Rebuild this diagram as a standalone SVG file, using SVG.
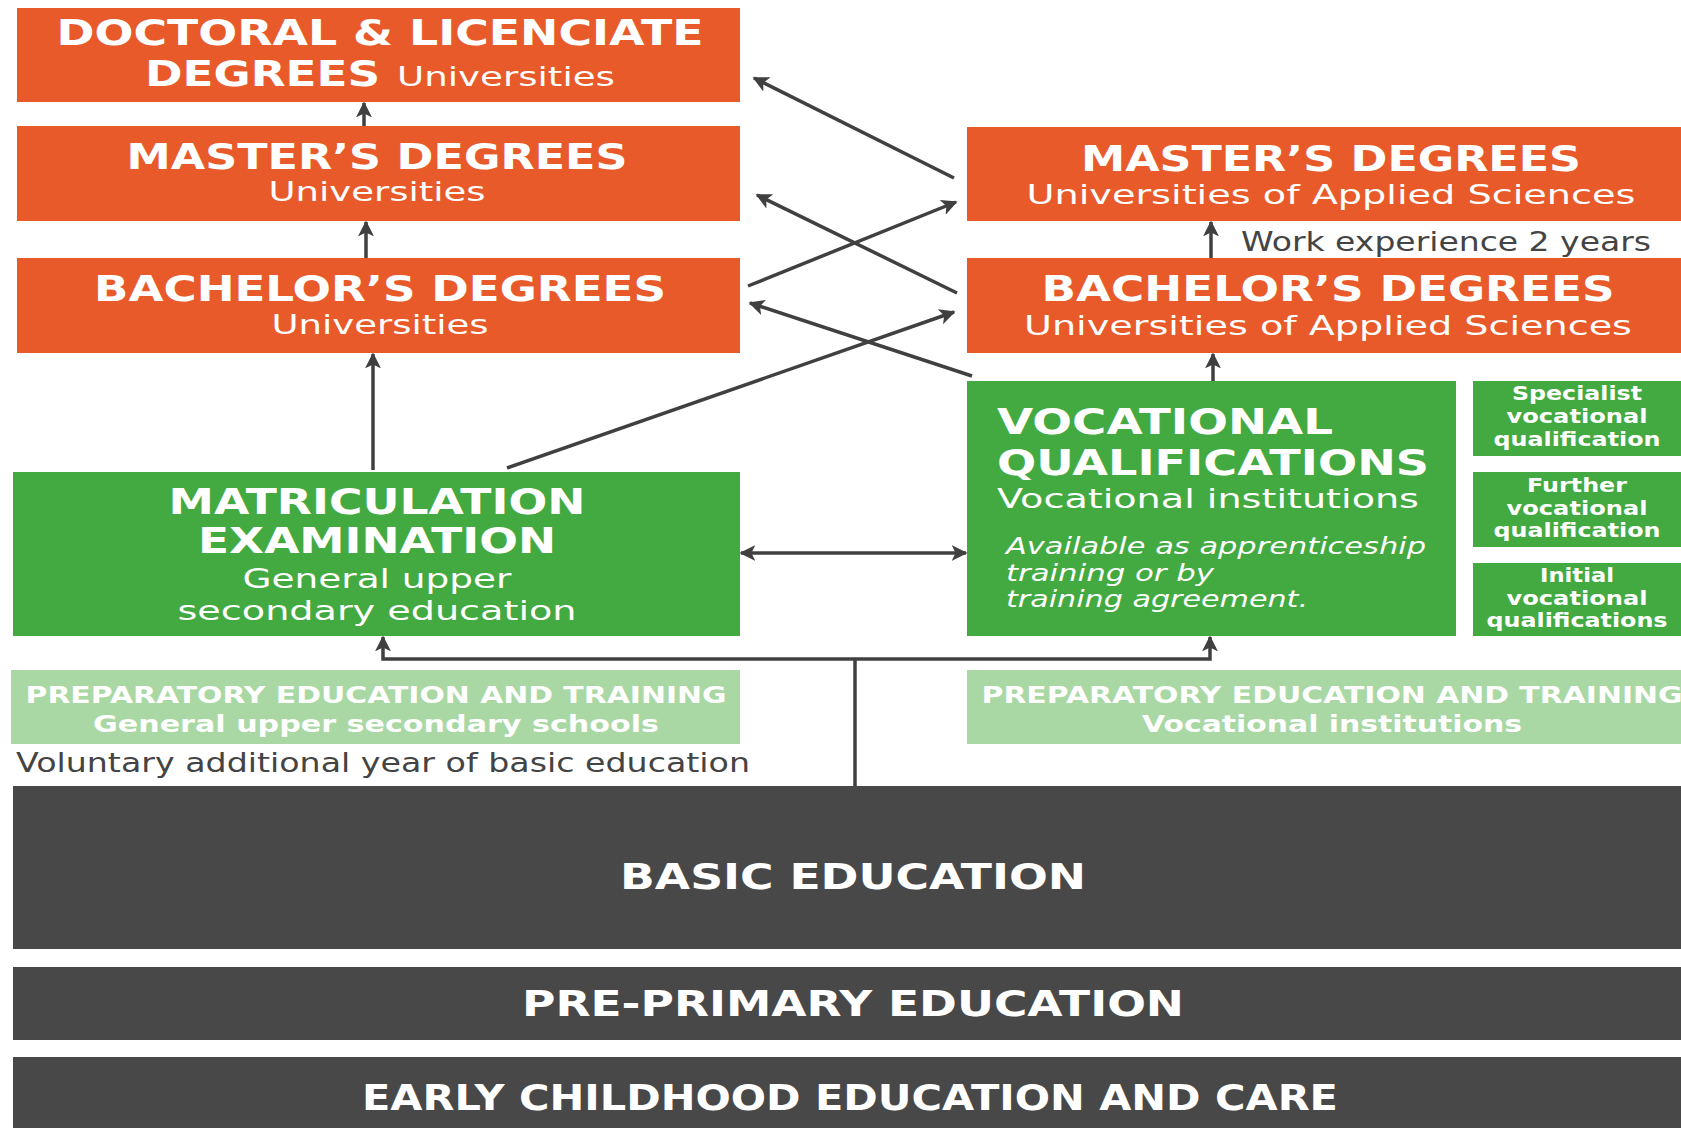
<svg xmlns="http://www.w3.org/2000/svg" width="1681" height="1128" viewBox="0 0 1681 1128">
<defs>
<style>
.or{fill:#E95A2B}
.gr{fill:#43AA41}
.lg{fill:#A9D8A5}
.dk{fill:#484848}
text{font-family:"DejaVu Sans","Liberation Sans",sans-serif;fill:#fff;text-anchor:middle}
.h{font-weight:bold;font-size:35px}
.s{font-size:26px}
.sm{font-weight:bold;font-size:19px}
.p{font-weight:bold;font-size:23px}
.g{fill:#444;text-anchor:start;font-size:26px}
.it{font-style:italic;font-size:23px;text-anchor:start}
.c{stroke:#404040;stroke-width:3.5;fill:none}
</style>
<marker id="a" viewBox="0 0 10 10" refX="9" refY="5" markerWidth="16" markerHeight="16" markerUnits="userSpaceOnUse" orient="auto-start-reverse">
<path d="M0,0 L10,5 L0,10 L2.5,5 z" fill="#404040"/>
</marker>
</defs>

<g id="doctoral">
<rect class="or" x="17" y="8" width="723" height="94"/>
<text class="h" x="380" y="45" textLength="647" lengthAdjust="spacingAndGlyphs">DOCTORAL &amp; LICENCIATE</text>
<text class="h" x="145" y="86" style="text-anchor:start" textLength="235" lengthAdjust="spacingAndGlyphs">DEGREES</text>
<text class="s" x="397" y="86" style="text-anchor:start" textLength="218" lengthAdjust="spacingAndGlyphs">Universities</text>
</g>

<g id="masters-univ">
<rect class="or" x="17" y="126" width="723" height="95"/>
<text class="h" x="377" y="169" textLength="501" lengthAdjust="spacingAndGlyphs">MASTER’S DEGREES</text>
<text class="s" x="377" y="201" textLength="217" lengthAdjust="spacingAndGlyphs">Universities</text>
</g>

<g id="bachelors-univ">
<rect class="or" x="17" y="258" width="723" height="95"/>
<text class="h" x="380" y="301" textLength="572" lengthAdjust="spacingAndGlyphs">BACHELOR’S DEGREES</text>
<text class="s" x="380" y="334" textLength="217" lengthAdjust="spacingAndGlyphs">Universities</text>
</g>

<g id="masters-uas">
<rect class="or" x="967" y="127" width="730" height="94"/>
<text class="h" x="1331" y="171" textLength="500" lengthAdjust="spacingAndGlyphs">MASTER’S DEGREES</text>
<text class="s" x="1331" y="204" textLength="609" lengthAdjust="spacingAndGlyphs">Universities of Applied Sciences</text>
</g>

<g id="work-exp">
<text class="g" x="1241" y="251" textLength="410" lengthAdjust="spacingAndGlyphs">Work experience 2 years</text>
</g>

<g id="bachelors-uas">
<rect class="or" x="967" y="258" width="730" height="95"/>
<text class="h" x="1328" y="301" textLength="573" lengthAdjust="spacingAndGlyphs">BACHELOR’S DEGREES</text>
<text class="s" x="1328" y="335" textLength="608" lengthAdjust="spacingAndGlyphs">Universities of Applied Sciences</text>
</g>

<g id="matriculation">
<rect class="gr" x="13" y="472" width="727" height="164"/>
<text class="h" x="377" y="514" textLength="417" lengthAdjust="spacingAndGlyphs">MATRICULATION</text>
<text class="h" x="377" y="553" textLength="358" lengthAdjust="spacingAndGlyphs">EXAMINATION</text>
<text class="s" x="377" y="588" textLength="269" lengthAdjust="spacingAndGlyphs">General upper</text>
<text class="s" x="377" y="620" textLength="399" lengthAdjust="spacingAndGlyphs">secondary education</text>
</g>

<g id="vocational">
<rect class="gr" x="967" y="381" width="489" height="255"/>
<text class="h" x="997" y="434" style="text-anchor:start" textLength="336" lengthAdjust="spacingAndGlyphs">VOCATIONAL</text>
<text class="h" x="997" y="475" style="text-anchor:start" textLength="432" lengthAdjust="spacingAndGlyphs">QUALIFICATIONS</text>
<text class="s" x="997" y="508" style="text-anchor:start" textLength="422" lengthAdjust="spacingAndGlyphs">Vocational institutions</text>
<text class="it" x="1006" y="554" textLength="420" lengthAdjust="spacingAndGlyphs">Available as apprenticeship</text>
<text class="it" x="1006" y="581" textLength="208" lengthAdjust="spacingAndGlyphs">training or by</text>
<text class="it" x="1006" y="607" textLength="302" lengthAdjust="spacingAndGlyphs">training agreement.</text>
</g>

<g id="specialist">
<rect class="gr" x="1473" y="381" width="215" height="75"/>
<text class="sm" x="1577" y="400" textLength="130" lengthAdjust="spacingAndGlyphs">Specialist</text>
<text class="sm" x="1577" y="423" textLength="141" lengthAdjust="spacingAndGlyphs">vocational</text>
<text class="sm" x="1577" y="446" textLength="167" lengthAdjust="spacingAndGlyphs">qualification</text>
</g>
<g id="further">
<rect class="gr" x="1473" y="472" width="215" height="75"/>
<text class="sm" x="1577" y="492" textLength="100" lengthAdjust="spacingAndGlyphs">Further</text>
<text class="sm" x="1577" y="515" textLength="141" lengthAdjust="spacingAndGlyphs">vocational</text>
<text class="sm" x="1577" y="537" textLength="167" lengthAdjust="spacingAndGlyphs">qualification</text>
</g>
<g id="initial">
<rect class="gr" x="1473" y="563" width="215" height="73"/>
<text class="sm" x="1577" y="582" textLength="74" lengthAdjust="spacingAndGlyphs">Initial</text>
<text class="sm" x="1577" y="605" textLength="141" lengthAdjust="spacingAndGlyphs">vocational</text>
<text class="sm" x="1577" y="627" textLength="181" lengthAdjust="spacingAndGlyphs">qualifications</text>
</g>

<g id="prep-general">
<rect class="lg" x="11" y="670" width="729" height="74"/>
<text class="p" x="376" y="703" textLength="701" lengthAdjust="spacingAndGlyphs">PREPARATORY EDUCATION AND TRAINING</text>
<text class="p" x="376" y="732" textLength="566" lengthAdjust="spacingAndGlyphs">General upper secondary schools</text>
</g>
<g id="voluntary">
<text class="g" x="16" y="772" textLength="734" lengthAdjust="spacingAndGlyphs">Voluntary additional year of basic education</text>
</g>

<g id="prep-vocational">
<rect class="lg" x="967" y="670" width="730" height="74"/>
<text class="p" x="1332" y="703" textLength="701" lengthAdjust="spacingAndGlyphs">PREPARATORY EDUCATION AND TRAINING</text>
<text class="p" x="1332" y="732" textLength="380" lengthAdjust="spacingAndGlyphs">Vocational institutions</text>
</g>

<g id="basic">
<rect class="dk" x="13" y="786" width="1684" height="163"/>
<text class="h" x="853" y="889" textLength="466" lengthAdjust="spacingAndGlyphs">BASIC EDUCATION</text>
</g>
<g id="preprimary">
<rect class="dk" x="13" y="967" width="1684" height="73"/>
<text class="h" x="853" y="1016" textLength="662" lengthAdjust="spacingAndGlyphs">PRE-PRIMARY EDUCATION</text>
</g>
<g id="early">
<rect class="dk" x="13" y="1057" width="1684" height="80"/>
<text class="h" x="850" y="1110" textLength="976" lengthAdjust="spacingAndGlyphs">EARLY CHILDHOOD EDUCATION AND CARE</text>
</g>

<g id="connectors">
<line class="c" x1="364" y1="126" x2="364" y2="103" marker-end="url(#a)"/>
<line class="c" x1="366" y1="258" x2="366" y2="222" marker-end="url(#a)"/>
<line class="c" x1="373" y1="470" x2="373" y2="354" marker-end="url(#a)"/>
<line class="c" x1="954" y1="178" x2="754" y2="78" marker-end="url(#a)"/>
<line class="c" x1="957" y1="293" x2="757" y2="195" marker-end="url(#a)"/>
<line class="c" x1="748" y1="286" x2="956" y2="202" marker-end="url(#a)"/>
<line class="c" x1="972" y1="376" x2="750" y2="303" marker-end="url(#a)"/>
<line class="c" x1="507" y1="468" x2="954" y2="312" marker-end="url(#a)"/>
<line class="c" x1="1211" y1="258" x2="1211" y2="222" marker-end="url(#a)"/>
<line class="c" x1="1213" y1="381" x2="1213" y2="354" marker-end="url(#a)"/>
<line class="c" x1="741" y1="553" x2="966" y2="553" marker-start="url(#a)" marker-end="url(#a)"/>
<line class="c" x1="855" y1="786" x2="855" y2="659"/>
<polyline class="c" points="383,637 383,659 1210,659 1210,637" marker-start="url(#a)" marker-end="url(#a)"/>
</g>
</svg>
